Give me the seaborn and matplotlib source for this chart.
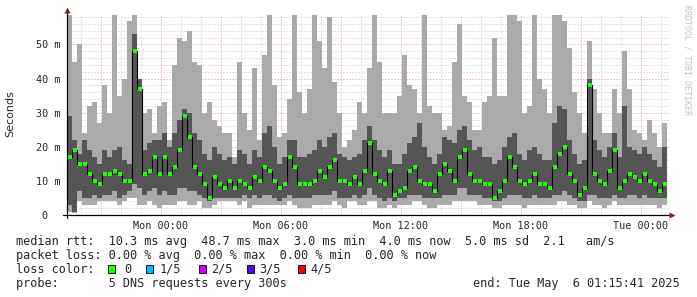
import numpy as np
import matplotlib
matplotlib.use("Agg")
import matplotlib.pyplot as plt
import seaborn as sns
from matplotlib.patches import Rectangle

# ---------------- data (ms), one value per 15-minute slot ----------------
start_hour = -4.7          # hours relative to Mon 00:00
step_hours = 0.25

max_ms = [59, 45, 50, 24, 32, 33, 27, 38, 30, 59, 35, 40, 57, 59, 38, 30, 31, 24, 32, 33,
          22, 44, 52, 51, 54, 45, 44, 30, 33, 28, 26, 24, 24, 17, 45, 30, 25, 43, 22, 47,
          59, 38, 23, 24, 34, 59, 36, 30, 37, 59, 51, 43, 58, 39, 30, 20, 22, 25, 33, 30,
          43, 59, 45, 30, 30, 30, 35, 47, 38, 37, 30, 59, 32, 30, 30, 25, 26, 45, 56, 35,
          33, 25, 25, 33, 35, 52, 35, 35, 59, 59, 57, 30, 32, 59, 40, 37, 30, 59, 59, 57,
          49, 36, 30, 24, 51, 37, 30, 24, 24, 37, 30, 48, 37, 25, 24, 22, 28, 24, 20, 27]
upper_ms = [29, 22, 18, 22, 19, 17, 15, 19, 17, 19, 20, 16, 15, 53, 40, 19, 21, 22, 22, 24,
            20, 24, 28, 31, 30, 24, 22, 18, 16, 20, 18, 16, 17, 15, 19, 18, 15, 19, 17, 24,
            26, 20, 15, 17, 22, 22, 17, 17, 18, 19, 22, 20, 23, 24, 18, 17, 16, 17, 18, 22,
            26, 22, 19, 17, 19, 15, 15, 18, 21, 23, 27, 20, 17, 15, 18, 23, 22, 21, 25, 26,
            22, 19, 20, 17, 17, 15, 16, 20, 23, 24, 18, 16, 19, 20, 18, 16, 16, 27, 32, 31,
            22, 18, 15, 16, 40, 22, 19, 17, 20, 24, 17, 32, 20, 19, 18, 20, 18, 16, 14, 20]
median_ms = [17, 19, 15, 15, 12, 10, 9, 12, 12, 13, 12, 10, 10, 48, 37, 12, 13, 17, 12, 17,
             12, 14, 19, 29, 23, 14, 12, 9, 5, 11, 9, 8, 10, 8, 10, 9, 8, 11, 10, 14,
             13, 10, 8, 9, 17, 14, 9, 9, 9, 10, 13, 11, 14, 16, 10, 10, 9, 11, 9, 13,
             21, 12, 10, 9, 13, 6, 7, 8, 13, 14, 10, 9, 9, 7, 12, 15, 13, 10, 17, 19,
             12, 10, 10, 9, 9, 5, 7, 10, 17, 14, 10, 9, 10, 12, 9, 9, 8, 14, 18, 20,
             12, 10, 6, 8, 38, 12, 10, 9, 13, 19, 8, 10, 12, 11, 10, 12, 10, 9, 7, 9]
lower_ms = [3, 1, 7, 5, 5, 6, 5, 6, 6, 7, 5, 6, 7, 9, 8, 6, 7, 8, 6, 7,
            6, 6, 8, 8, 7, 7, 6, 5, 4, 5, 5, 5, 5, 5, 5, 6, 5, 6, 5, 6,
            6, 5, 4, 5, 6, 5, 5, 5, 5, 6, 6, 6, 6, 7, 5, 5, 5, 6, 5, 6,
            8, 6, 5, 4, 5, 4, 5, 5, 6, 6, 6, 5, 5, 5, 5, 6, 6, 6, 8, 8,
            6, 6, 6, 5, 5, 4, 4, 5, 6, 6, 6, 5, 5, 6, 5, 5, 5, 6, 6, 7,
            6, 5, 4, 4, 6, 6, 5, 5, 5, 6, 5, 5, 6, 6, 5, 6, 5, 5, 5, 5]
min_ms = [1, 0.5, 4, 3, 3, 3, 4, 4, 4, 4, 3, 4, 5, 5, 3, 3, 4, 3, 2, 3,
          3, 3, 4, 4, 3, 3, 4, 2, 2, 3, 4, 4, 4, 4, 3, 4, 2, 3, 3, 3,
          3, 3, 3, 3, 4, 3, 2, 2, 2, 3, 3, 3, 3, 4, 3, 2, 4, 4, 3, 3,
          4, 4, 2, 2, 3, 2, 3, 3, 3, 4, 4, 3, 2, 2, 3, 3, 3, 4, 4, 4,
          4, 4, 3, 3, 3, 2, 2, 3, 3, 3, 3, 2, 3, 3, 3, 3, 3, 3, 4, 4,
          3, 3, 2, 2, 4, 3, 3, 2, 3, 4, 3, 3, 3, 3, 3, 3, 3, 3, 2, 3]

x_tick_hours = [0, 6, 12, 18, 24]
x_tick_labels = ["Mon 00:00", "Mon 06:00", "Mon 12:00", "Mon 18:00", "Tue 00:00"]
y_tick_values = [0, 10, 20, 30, 40, 50]
y_tick_labels = ["0  ", "10 m", "20 m", "30 m", "40 m", "50 m"]

legend_line1 = "median rtt:  10.3 ms avg  48.7 ms max  3.0 ms min  4.0 ms now  5.0 ms sd  2.1   am/s"
legend_line2 = "packet loss: 0.00 % avg  0.00 % max  0.00 % min  0.00 % now"
legend_line3 = "loss color:"
legend_line4 = "probe:       5 DNS requests every 300s"
end_text = "end: Tue May  6 01:15:41 2025"
loss_labels = ["0", "1/5", "2/5", "3/5", "4/5"]
loss_colors = ["#20ff00", "#00b8ff", "#cc00ff", "#5500ff", "#ff0000"]

# ---------------- figure ----------------
sns.set_style("white")
plt.rcParams["font.family"] = ["DejaVu Sans Mono", "DejaVu Sans"]

W, H = 697, 297
fig = plt.figure(figsize=(W / 100, H / 100), dpi=100)
fig.patch.set_facecolor("white")

def fx(px):
    return px / W

def fy(py):
    return 1 - py / H

ax = fig.add_axes([fx(67), fy(215), fx(669) - fx(67), (215 - 15) / H])
ax.set_facecolor("white")

n = len(median_ms)
edges = start_hour + step_hours * np.arange(n + 1)
centers = edges[:-1] + step_hours / 2

def ext(v):
    return np.append(np.asarray(v, float), v[-1])

ax.fill_between(edges, ext(min_ms), ext(max_ms), step="post", color="#aaaaaa", lw=0, zorder=1)
ax.fill_between(edges, ext(lower_ms), ext(upper_ms), step="post", color="#555555", lw=0, zorder=2)
sns.lineplot(x=centers, y=median_ms, ax=ax, color="black", lw=0.8, drawstyle="steps-mid",
             estimator=None, zorder=3)
sns.scatterplot(x=centers, y=median_ms, ax=ax, marker="s", s=5, color="#20ff00",
                linewidth=0, zorder=4)

ax.set_xlim(start_hour, start_hour + (669 - 67) / 20.0)
ax.set_ylim(0, 58.65)

major_x = np.arange(-3, 25.5, 3)
ax.set_xticks(major_x)
ax.set_xticklabels([x_tick_labels[x_tick_hours.index(h)] if h in x_tick_hours else "" for h in major_x])
ax.set_xticks(np.arange(-4, 26, 1), minor=True)
ax.set_yticks(y_tick_values)
ax.set_yticklabels(y_tick_labels)
ax.set_yticks(np.arange(0, 59, 2), minor=True)

ax.set_axisbelow(True)
ax.grid(which="minor", color="#c8c8c8", ls=(0, (1, 2)), lw=0.72, zorder=0)
ax.grid(which="major", color="#f09090", ls=(0, (1, 2)), lw=0.72, zorder=0)
for s in ax.spines.values():
    s.set_visible(False)

ax.tick_params(axis="both", which="both", length=0)
ax.tick_params(axis="y", pad=5, labelsize=7.3)
ax.tick_params(axis="x", pad=4.3, labelsize=7.3)
for lab in ax.get_xticklabels() + ax.get_yticklabels():
    lab.set_family("DejaVu Sans Mono")
ax.set_xlabel("")
ax.set_ylabel("")

# axis lines with arrows
ax.plot([0, 0], [-0.015, 1.02], transform=ax.transAxes, color="black", lw=0.9, clip_on=False, zorder=5)
ax.plot([-0.006, 1.0], [0, 0], transform=ax.transAxes, color="black", lw=0.9, clip_on=False, zorder=5)
ax.plot([0], [1.025], transform=ax.transAxes, marker="^", ms=4.2, color="#8b1a1a",
        clip_on=False, zorder=6, mec="none")
ax.plot([1.005], [0], transform=ax.transAxes, marker=">", ms=4.2, color="#8b1a1a",
        clip_on=False, zorder=6, mec="none")

# texts
fig.text(fx(10), fy(114), "Seconds", rotation=90, ha="center", va="center",
         family="DejaVu Sans", fontsize=8)
fig.text(fx(687), fy(60), "RRDTOOL / TOBI OETIKER", rotation=270, ha="center", va="center",
         family="DejaVu Sans Mono", fontsize=6, color="#c4c4c4")

lfs = 8.6
fig.text(fx(16), fy(245), legend_line1, ha="left", va="baseline", fontsize=lfs)
fig.text(fx(16), fy(259), legend_line2, ha="left", va="baseline", fontsize=lfs)
fig.text(fx(16), fy(273), legend_line3, ha="left", va="baseline", fontsize=lfs)
fig.text(fx(16), fy(287), legend_line4, ha="left", va="baseline", fontsize=lfs)
fig.text(fx(680), fy(287), end_text, ha="right", va="baseline", fontsize=lfs)

square_px = [108, 146, 199, 247, 298]
label_px = [124, 160, 211, 259, 310]
for sx, lx, lab, col in zip(square_px, label_px, loss_labels, loss_colors):
    fig.patches.append(Rectangle((fx(sx), fy(273)), fx(7), 8 / H, transform=fig.transFigure,
                                 facecolor=col, edgecolor="black", lw=0.6))
    fig.text(fx(lx), fy(273), lab, ha="left", va="baseline", fontsize=lfs)

fig.savefig("out.png", dpi=100, facecolor="white")
